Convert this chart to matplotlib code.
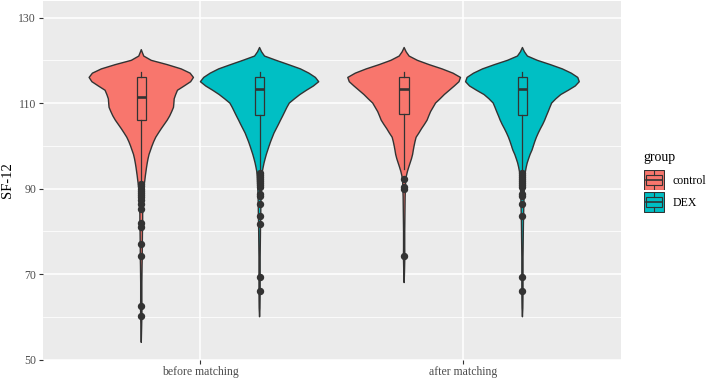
import numpy as np
import matplotlib.pyplot as plt
from matplotlib.patches import Rectangle

plt.rcParams['font.family'] = ['Liberation Serif', 'DejaVu Serif']

categories = ["before matching", "after matching"]
groups = ["control", "DEX"]
colors = ["#F8766D", "#00BFC4"]

# violin density profile, same y grid for all four violins
y_grid = [123.0, 122.5, 122.0, 121.0, 120.0, 119.0, 118.0, 117.0, 116.0, 115.0,
          114.0, 113.0, 112.0, 111.0, 110.0, 109.0, 108.0, 107.0, 106.0, 105.0,
          104.0, 103.0, 102.0, 101.0, 100.0, 99.0, 98.0, 97.0, 96.0, 95.0,
          94.0, 93.0, 92.0, 91.0, 90.0, 88.0, 86.0, 84.0, 82.0, 80.0,
          78.0, 76.0, 74.0, 72.0, 70.0, 68.0, 66.0, 64.0, 62.0, 60.0,
          58.0, 56.0, 54.0]

dens_control_before = [0, 0, 0.8, 2.5, 10, 26, 40, 49, 52.3, 49.5,
                       43, 36.3, 34.5, 33, 32.7, 32.3, 30.5, 28.5, 26, 23,
                       20, 17.2, 14.5, 12.5, 10.8, 9.3, 7.8, 6.8, 6, 5.3,
                       4.7, 4.1, 3.6, 3, 2.6, 2.2, 1.8, 1.4, 1.4, 1.2,
                       1.1, 1.0, 1.0, 0.8, 0.7, 0.6, 0.6, 0.6, 0.7, 0.6,
                       0.4, 0.2, 0]
dens_dex_before = [0, 1, 2, 5, 16.7, 29, 41, 49.5, 56, 59.3,
                   54, 47, 40.5, 35, 29.8, 27.4, 25.3, 23.2, 21, 18.9,
                   16.7, 14.5, 12.8, 11.1, 9.6, 8.2, 6.8, 5.6, 4.5, 3.6,
                   2.8, 2.4, 2.2, 2.0, 1.8, 1.5, 1.3, 1.2, 1.0, 0.9,
                   0.8, 0.7, 0.6, 0.6, 0.6, 0.6, 0.6, 0.5, 0.4, 0,
                   0, 0, 0]
dens_control_after = [0, 1, 2, 5, 13.3, 25, 38, 49, 56.5, 55,
                      50.3, 45.3, 40.3, 36, 31.5, 29, 26.5, 24.7, 23, 20.3,
                      17.4, 14.8, 12, 10.9, 10, 9.2, 8.5, 7.4, 6, 4.6,
                      3.3, 2.3, 1.6, 1.4, 1.3, 1.0, 0.9, 0.8, 0.7, 0.6,
                      0.6, 0.6, 0.7, 0.5, 0.3, 0, 0, 0, 0, 0,
                      0, 0, 0]
dens_dex_after = [0, 1, 2, 5, 15, 28, 40, 49, 55.5, 57,
                  53, 46, 38.5, 33.5, 29.3, 27.5, 25.8, 24, 22.3, 20.3,
                  18, 15.9, 14, 12.4, 11, 9.6, 7.7, 6.2, 4.8, 3.8,
                  3, 2.5, 2.3, 2.1, 1.9, 1.6, 1.4, 1.2, 1.0, 0.9,
                  0.8, 0.7, 0.6, 0.6, 0.6, 0.6, 0.6, 0.5, 0.4, 0,
                  0, 0, 0]

# box stats: lower whisker, q1, median, q3, upper whisker
box_control_before = [91.3, 106.1, 111.4, 116.0, 117.3]
box_dex_before = [93.8, 107.1, 113.2, 116.0, 117.3]
box_control_after = [94.5, 107.4, 113.2, 116.0, 117.3]
box_dex_after = [93.8, 107.1, 113.2, 116.0, 117.3]

out_control_before = [91.0, 90.5, 90.0, 89.5, 89.0, 88.5, 88.0, 87.4, 86.5, 85.3,
                      82.0, 81.1, 77.0, 74.2, 62.6, 60.2]
out_dex_before = [93.6, 93.2, 92.8, 92.3, 91.8, 91.3, 90.8, 90.4, 88.8, 88.2,
                  86.5, 83.6, 81.6, 69.2, 66.0]
out_control_after = [92.2, 90.4, 90.0, 74.2]
out_dex_after = [93.6, 93.2, 92.8, 92.3, 91.8, 91.3, 90.8, 90.4, 88.7, 88.2,
                 86.5, 83.6, 69.2, 66.0]

dens = [[dens_control_before, dens_dex_before], [dens_control_after, dens_dex_after]]
boxes = [[box_control_before, box_dex_before], [box_control_after, box_dex_after]]
outs = [[out_control_before, out_dex_before], [out_control_after, out_dex_after]]

dark = "#333333"
W, H = 708, 380
fig = plt.figure(figsize=(W / 100, H / 100), dpi=100)
ax = fig.add_axes([42.7 / W, 1 - 359.5 / H, (621 - 42.7) / W, 359.0 / H])
ax.set_facecolor("#EBEBEB")
for s in ax.spines.values():
    s.set_visible(False)

ax.set_xlim(0.4, 2.6)
ax.set_ylim(50, 134)
ax.set_yticks([50, 70, 90, 110, 130])
ax.set_yticks([60, 80, 100, 120], minor=True)
ax.set_xticks([1, 2])
ax.set_xticklabels(categories)
ax.grid(which="major", color="white", linewidth=1.1)
ax.grid(which="minor", axis="y", color="white", linewidth=0.55)
ax.set_axisbelow(True)
ax.tick_params(which="major", length=2.8, width=0.8, color=dark, labelcolor="#4D4D4D",
               labelsize=8.5, pad=2)
ax.tick_params(which="minor", length=0)

y = np.array(y_grid)
dmax = max(max(d) for row in dens for d in row)
offsets = [-0.225, 0.225]
for i in range(2):
    for j in range(2):
        xc = i + 1 + offsets[j]
        d = np.array(dens[i][j])
        nz = np.nonzero(d)[0]
        lo, hi = max(nz[0] - 1, 0), min(nz[-1] + 1, len(d) - 1)
        yy = y[lo:hi + 1]
        half = d[lo:hi + 1] / dmax * 0.225
        px = np.concatenate([xc - half, (xc + half)[::-1]])
        py = np.concatenate([yy, yy[::-1]])
        ax.fill(px, py, facecolor=colors[j], edgecolor=dark, linewidth=1.0,
                joinstyle="round", zorder=2)
        b = boxes[i][j]
        st = dict(whislo=b[0], q1=b[1], med=b[2], q3=b[3], whishi=b[4], fliers=outs[i][j])
        ax.bxp([st], positions=[xc], widths=0.036, showcaps=False, patch_artist=True,
               boxprops=dict(facecolor="none", edgecolor=dark, linewidth=0.9),
               medianprops=dict(color=dark, linewidth=1.9),
               whiskerprops=dict(color=dark, linewidth=0.9),
               flierprops=dict(marker="o", markerfacecolor=dark, markeredgecolor=dark,
                               markersize=4.3), manage_ticks=False, zorder=3)

fig.text(7 / W, 1 - 180 / H, "SF-12", rotation=90, ha="center", va="center", fontsize=10.5)

# legend
fig.text(643 / W, 1 - 157.5 / H, "group", ha="left", va="center", fontsize=10)
key_tops = [169.5, 191.5]
for j, g in enumerate(groups):
    kax = fig.add_axes([643.5 / W, 1 - (key_tops[j] + 21) / H, 21 / W, 21 / H])
    kax.set_xlim(0, 1)
    kax.set_ylim(0, 1)
    kax.axis("off")
    kax.add_patch(Rectangle((0.02, 0.02), 0.96, 0.96, facecolor=colors[j], edgecolor=dark,
                            linewidth=0.8))
    kax.add_patch(Rectangle((0.12, 0.25), 0.76, 0.5, facecolor="none", edgecolor=dark,
                            linewidth=0.8))
    kax.plot([0.12, 0.88], [0.5, 0.5], color=dark, linewidth=1.2)
    kax.plot([0.5, 0.5], [0.08, 0.25], color=dark, linewidth=0.8)
    kax.plot([0.5, 0.5], [0.75, 0.92], color=dark, linewidth=0.8)
    fig.text(672.7 / W, 1 - (key_tops[j] + 11) / H, g, ha="left", va="center", fontsize=8.5)

fig.savefig("out.png", dpi=100)
